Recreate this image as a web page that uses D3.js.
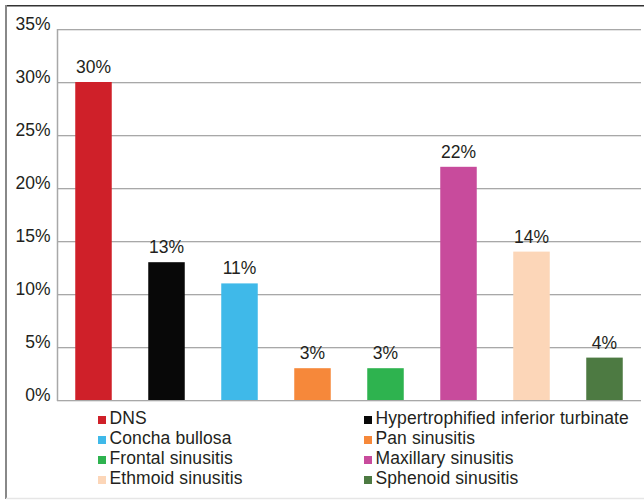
<!DOCTYPE html>
<html>
<head>
<meta charset="utf-8">
<script src="https://cdn.jsdelivr.net/npm/d3@7/dist/d3.min.js"></script>
<style>
  html, body { margin: 0; padding: 0; background: #fff; }
  svg { display: block; font-family: "Liberation Sans", Arial, sans-serif; }
</style>
</head>
<body>
<svg id="chart" width="644" height="500"></svg>
<script>
// Findings and their share of cases (%)
const categories = [
  "DNS",
  "Hypertrophified inferior turbinate",
  "Concha bullosa",
  "Pan sinusitis",
  "Frontal sinusitis",
  "Maxillary sinusitis",
  "Ethmoid sinusitis",
  "Sphenoid sinusitis"
];
const values = [30, 13, 11, 3, 3, 22, 14, 4];
const colors = ["#cf2029", "#080808", "#3fb9e9", "#f6883a", "#2eb34f", "#c84b9c", "#fcd6b8", "#4d7a42"];
const yTicks = [0, 5, 10, 15, 20, 25, 30, 35];

const FONT_SIZE = "17.5px";
const svg = d3.select("#chart");

// outer frame: dark top edge, grey left edge, faint bottom edge
svg.append("line")
  .attr("x1", 5).attr("x2", 644).attr("y1", 5.75).attr("y2", 5.75)
  .attr("stroke", "#333").attr("stroke-width", 1.5);
svg.append("line")
  .attr("x1", 6).attr("x2", 6).attr("y1", 5).attr("y2", 499)
  .attr("stroke", "#888").attr("stroke-width", 2);
svg.append("line")
  .attr("x1", 6).attr("x2", 644).attr("y1", 498.5).attr("y2", 498.5)
  .attr("stroke", "#e6e6e6").attr("stroke-width", 1.5);

const plot = { left: 57, right: 641, top: 29, bottom: 400 };

const x = d3.scaleBand()
  .domain(categories)
  .range([plot.left, plot.right])
  .paddingInner(0.5)
  .paddingOuter(0.25);

const y = d3.scaleLinear()
  .domain([0, 35])
  .range([plot.bottom, plot.top]);

// horizontal gridlines with a soft shadow
const grid = svg.append("g");
grid.selectAll("line.shadow")
  .data(yTicks)
  .join("line")
  .attr("class", "shadow")
  .attr("x1", plot.left).attr("x2", plot.right)
  .attr("y1", d => y(d) + 1.5).attr("y2", d => y(d) + 1.5)
  .attr("stroke", "#e4e4e4").attr("stroke-width", 1);
grid.selectAll("line.main")
  .data(yTicks)
  .join("line")
  .attr("class", "main")
  .attr("x1", plot.left).attr("x2", plot.right)
  .attr("y1", d => y(d) + 0.5).attr("y2", d => y(d) + 0.5)
  .attr("stroke", "#a8a8a8").attr("stroke-width", 1.2);

// vertical axis line
svg.append("line")
  .attr("x1", plot.left + 0.5).attr("x2", plot.left + 0.5)
  .attr("y1", y(35)).attr("y2", y(0) + 1)
  .attr("stroke", "#a8a8a8").attr("stroke-width", 1.5);

// y tick labels
const yAxis = d3.axisLeft(y)
  .tickValues(yTicks)
  .tickFormat(d => d + "%")
  .tickSize(0)
  .tickPadding(6.5);
const ya = svg.append("g")
  .attr("transform", `translate(${plot.left},0)`)
  .call(yAxis);
ya.select(".domain").remove();
ya.selectAll("text")
  .attr("font-family", "'Liberation Sans', Arial, sans-serif")
  .attr("font-size", FONT_SIZE)
  .attr("fill", "#231f20")
  .attr("dy", "0em");

// bars
svg.append("g")
  .selectAll("rect")
  .data(values)
  .join("rect")
  .attr("x", (d, i) => x(categories[i]))
  .attr("width", x.bandwidth())
  .attr("y", d => y(d))
  .attr("height", d => y(0) - y(d))
  .attr("fill", (d, i) => colors[i]);

// value labels
svg.append("g")
  .selectAll("text")
  .data(values)
  .join("text")
  .attr("x", (d, i) => x(categories[i]) + x.bandwidth() / 2)
  .attr("y", d => y(d) - 9)
  .attr("text-anchor", "middle")
  .attr("font-size", FONT_SIZE)
  .attr("fill", "#231f20")
  .text(d => d + "%");

// legend in two columns
const legendCols = [98, 364];
const legendRowY = [424, 444, 464, 484];
const legend = svg.append("g")
  .selectAll("g")
  .data(categories)
  .join("g")
  .attr("transform", (d, i) => `translate(${legendCols[i % 2]},${legendRowY[Math.floor(i / 2)]})`);
legend.append("rect")
  .attr("x", 0).attr("y", -8)
  .attr("width", 8).attr("height", 8)
  .attr("fill", (d, i) => colors[i]);
legend.append("text")
  .attr("x", 11.5).attr("y", 0)
  .attr("font-size", FONT_SIZE)
  .attr("letter-spacing", "0.1px")
  .attr("fill", "#231f20")
  .text(d => d);
</script>
</body>
</html>
